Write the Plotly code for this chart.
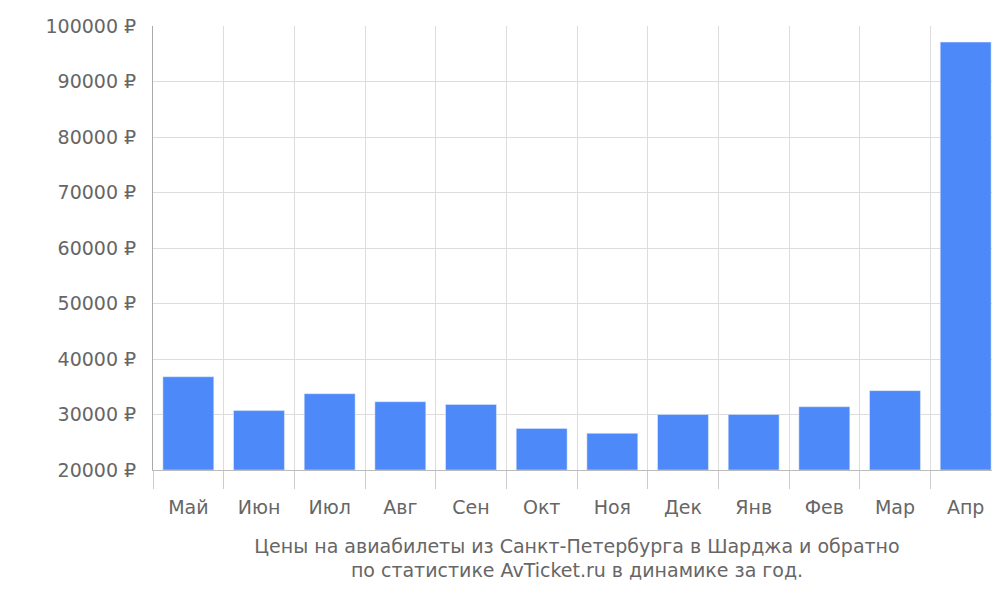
import plotly.graph_objects as go

months = ['Май', 'Июн', 'Июл', 'Авг', 'Сен', 'Окт', 'Ноя', 'Дек', 'Янв', 'Фев', 'Мар', 'Апр']
prices = [36800, 30700, 33750, 32300, 31800, 27500, 26600, 30000, 30000, 31400, 34300, 97100]
y_ticks = [20000, 30000, 40000, 50000, 60000, 70000, 80000, 90000, 100000]

x = list(range(len(months)))
bounds = [i - 0.5 for i in range(len(months) + 1)]
grey = '#666666'

fig = go.Figure()
fig.add_trace(go.Bar(x=x, y=[p - 20000 for p in prices], base=20000, width=0.72,
                     marker=dict(color='#4d89f9'), hoverinfo='skip'))
# invisible trace on overlay axis for the category grid
fig.add_trace(go.Scatter(x=bounds, y=[None] * len(bounds), xaxis='x2', showlegend=False))

fig.update_layout(
    width=1000, height=600,
    margin=dict(l=145, r=7, t=14, b=138),
    plot_bgcolor='white', paper_bgcolor='white',
    showlegend=False,
    font=dict(family='DejaVu Sans', color=grey, size=19),
    xaxis=dict(range=[-0.5, 11.5], tickvals=x, ticktext=months, showgrid=False,
               ticks='outside', ticklen=20, tickcolor='rgba(0,0,0,0)',
               showline=True, linecolor='#bbbbbb',
               title=dict(text='Цены на авиабилеты из Санкт-Петербурга в Шарджа и обратно<br>по статистике AvTicket.ru в динамике за год.',
                          font=dict(size=19, color=grey), standoff=22)),
    xaxis2=dict(range=[-0.5, 11.5], overlaying='x', tickvals=bounds, showticklabels=False,
                showgrid=True, gridcolor='#dddddd', ticks='outside', ticklen=18,
                tickcolor='#cccccc', side='bottom', zeroline=False),
    yaxis=dict(range=[20000, 100000], tickvals=y_ticks,
               ticktext=[f'{v} ₽' for v in y_ticks], gridcolor='#dddddd',
               showline=True, linecolor='#aaaaaa', zeroline=False,
               ticks='', ticklabelstandoff=12),
)

fig.write_html('out.html')
